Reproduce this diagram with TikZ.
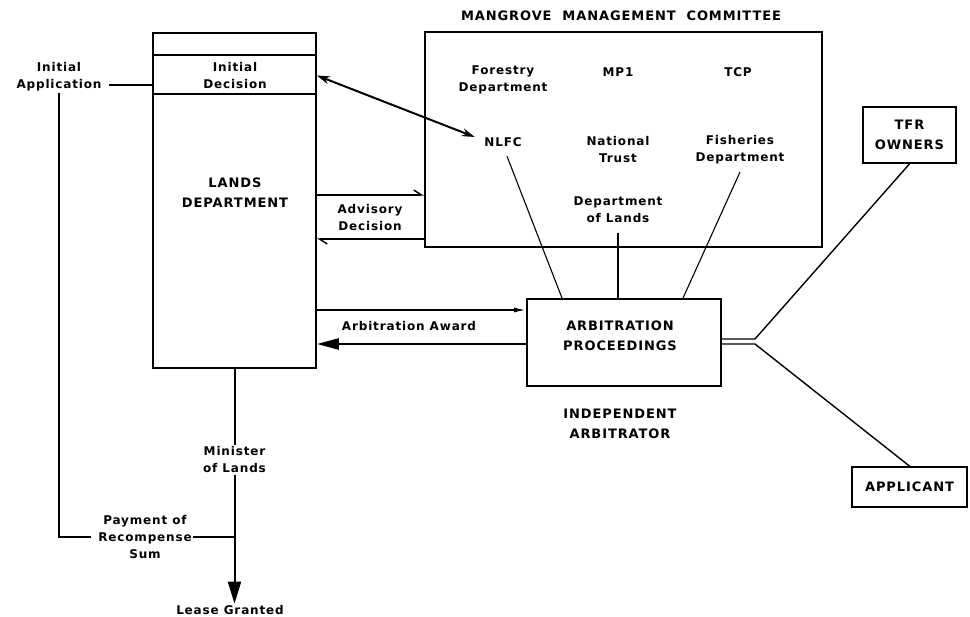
\documentclass[tikz,border=0pt]{standalone}
\usepackage{fontspec}
\newfontfamily\lettering[LetterSpace=7]{DejaVu Sans}
\usetikzlibrary{arrows.meta}
\tikzset{
  lbl/.style={font=\lettering\bfseries\fontsize{12}{17}\selectfont, align=center, inner sep=1pt},
  caps/.style={font=\lettering\bfseries\fontsize{13}{20}\selectfont, align=center, inner sep=1pt},
  box/.style={draw, line width=1.8pt, inner sep=0pt},
  thinline/.style={line width=1.1pt},
}
\begin{document}
\begin{tikzpicture}[x=1pt,y=-1pt,line width=1.4pt]
\useasboundingbox (0,0) rectangle (970,617);
%%Boxes
\node[box, minimum width=163pt, minimum height=335pt] (lands) at (234.5,200.5) {};
\node[box, minimum width=397pt, minimum height=215pt] (mmc) at (623.5,139.5) {};
\node[box, minimum width=194pt, minimum height=87pt] (arb) at (624,342.5) {};
\node[box, caps, minimum width=93pt, minimum height=56pt] (tfr) at (909.5,135) {TFR\\OWNERS};
\node[box, caps, minimum width=115pt, minimum height=40pt] (appl) at (909.5,487) {APPLICANT};
\draw[line width=1.8pt] (lands.west |- 0,55) -- (lands.east |- 0,55);
\draw[line width=1.8pt] (lands.west |- 0,94) -- (lands.east |- 0,94);

%%Lands Department
\node[lbl] (idec) at (235,75.5) {Initial\\Decision};
\node[caps] (landstext) at (235,193) {LANDS\\DEPARTMENT};

%%Committee
\node[caps] (mmctitle) at (621,16) {MANGROVE\ \ MANAGEMENT\ \ COMMITTEE};
\node[lbl] (forestry) at (503,80) {Forestry\\Department};
\node[lbl] (mp1) at (618,72) {MP1};
\node[lbl] (tcp) at (738,72) {TCP};
\node[lbl] (nlfc) at (503,142) {NLFC};
\node[lbl] (trust) at (618,150) {National\\Trust};
\node[lbl] (fisheries) at (740,150) {Fisheries\\Department};
\node[lbl] (deptlands) at (618,210) {Department\\of Lands};

%%Arbitration
\node[caps] (arbtext) at (620,336) {ARBITRATION\\PROCEEDINGS};
\node[caps] (indep) at (620,424) {INDEPENDENT\\ARBITRATOR};

%%Labels
\node[lbl] (initapp) at (59,77) {Initial\\Application};
\node[lbl] (pay) at (145,537) {Payment of\\Recompense\\Sum};
\node[lbl] (minister) at (234.5,460) {Minister\\of Lands};
\node[lbl] (lease) at (230,610) {Lease Granted};
\node[lbl] (advisory) at (370,218) {Advisory\\Decision};
\node[lbl] (award) at (409,326) {Arbitration Award};

%%Application and payment
\draw[line width=2.2pt] ([xshift=6pt,yshift=-8pt]initapp.east) -- ([yshift=-8pt]initapp.east -| lands.west);
\draw[line width=1.8pt] (initapp.south) |- ([xshift=-6pt]pay.west);
\draw[line width=1.8pt] (pay.east) -- (pay.east -| minister.south);
\draw[line width=2pt] (lands.south) -- (minister.north);
\draw[line width=2pt,-{Triangle[length=22pt,width=13pt]}] (minister.south) -- (minister.south |- lease.north);

%%Decisions
\draw[line width=2pt,{Stealth[length=13pt,width=8pt]}-{Stealth[length=13pt,width=8pt]}] (lands.east |- idec) -- ([xshift=-8pt,yshift=5pt]nlfc.west);
\draw[-{Straight Barb[harpoon,length=8pt,width=10pt]}] (lands.east |- 0,195) -- (mmc.west |- 0,195);
\draw[-{Straight Barb[harpoon,length=8pt,width=10pt]}] (mmc.west |- 0,239) -- (lands.east |- 0,239);
\draw[line width=1.6pt,-{Latex[length=12pt,width=5pt]}] (lands.east |- 0,310) -- (arb.west |- 0,310);
\draw[line width=2.6pt,-{Triangle[length=22pt,width=11pt]}] (arb.west |- 0,344) -- (lands.east |- 0,344);

%%Members to arbitration
\draw[thinline] ([xshift=4pt,yshift=-8pt]nlfc.south) -- ([xshift=-62pt]arb.north);
\draw[thinline] ([yshift=-8pt]deptlands.south) -- (deptlands.south |- arb.north);
\draw[thinline] ([yshift=-6pt]fisheries.south) -- ([xshift=59pt]arb.north);

%%Parties
\coordinate (jtop) at (755,339);
\coordinate (jbot) at (755,344);
\draw (arb.east |- jtop) -- (jtop) -- (tfr.south);
\draw (arb.east |- jbot) -- (jbot) -- (appl.north);
\end{tikzpicture}
\end{document}
